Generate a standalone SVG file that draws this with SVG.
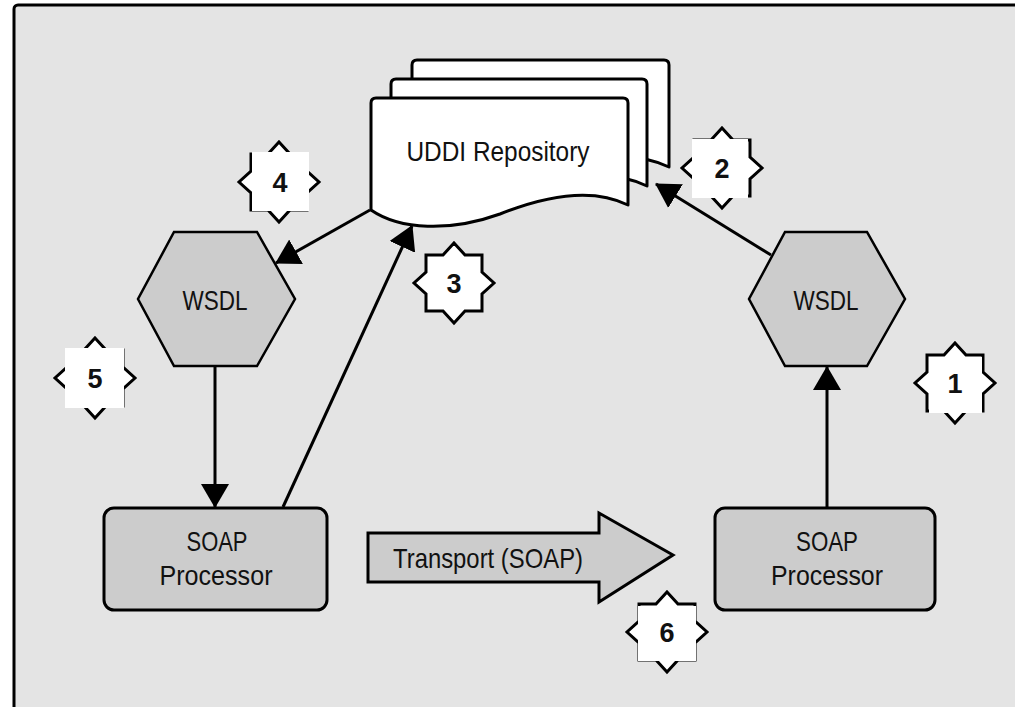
<svg xmlns="http://www.w3.org/2000/svg" width="1015" height="707" viewBox="0 0 1015 707">
<style>
.frame{fill:#e4e4e4;stroke:#000;stroke-width:3}
.page{fill:#fff;stroke:#000;stroke-width:3;stroke-linejoin:round}
.hex{fill:#cccccc;stroke:#000;stroke-width:2.5}
.box{fill:#cccccc;stroke:#000;stroke-width:3}
.conn{fill:none;stroke:#000;stroke-width:3}
.star{fill:#fff;stroke:#000;stroke-width:3;stroke-linejoin:miter}
.sq{fill:#fff}
.lbl{font-family:"Liberation Sans",Arial,sans-serif;font-size:28px;fill:#111;text-anchor:middle}
.num{font-family:"Liberation Sans",Arial,sans-serif;font-size:27px;font-weight:bold;fill:#111;text-anchor:middle}
</style>
<defs>
<marker id="ah" viewBox="0 0 24 28" refX="23" refY="14" markerWidth="24" markerHeight="28" orient="auto" markerUnits="userSpaceOnUse">
<path d="M0,0 L24,14 L0,28 Z" fill="#000"/>
</marker>
<polygon id="starShape" points="0,-40 11,-28 28,-28 28,-11 40,0 28,11 28,28 11,28 0,40 -11,28 -28,28 -28,11 -40,0 -28,-11 -28,-28 -11,-28"/>
</defs>
<rect x="0" y="0" width="1015" height="707" fill="#fff"/>
<rect class="frame" x="14" y="5" width="1020" height="720" rx="4"/>

<g id="uddi">
<path class="page" d="M412,167 L412,65 Q412,60 417,60 L664,60 Q669,60 669,65 L669,167 C631,148 581,160 541,176 C491,194 441,192 412,172 Z"/>
<path class="page" d="M391,191 L391,84 Q391,79 396,79 L642,79 Q647,79 647,84 L647,186 C609,167 560,179 520,195 C470,213 420,211 391,191 Z"/>
<path class="page" d="M371,210 L371,103 Q371,98 376,98 L623,98 Q628,98 628,103 L628,205 C590,186 540,198 500,214 C450,232 400,230 371,210 Z"/>
<text class="lbl" x="498" y="161" textLength="183" lengthAdjust="spacingAndGlyphs">UDDI Repository</text>
</g>

<g id="wsdl-left">
<polygon class="hex" points="174,232 257,232 295,299 257,366 174,366 138,299"/>
<text class="lbl" x="215" y="310" textLength="65" lengthAdjust="spacingAndGlyphs">WSDL</text>
</g>

<g id="wsdl-right">
<polygon class="hex" points="785,232 867,232 905,299 867,366 785,366 749,299"/>
<text class="lbl" x="826" y="310" textLength="65" lengthAdjust="spacingAndGlyphs">WSDL</text>
</g>

<g id="soap-left">
<rect class="box" x="104" y="508" width="223" height="102" rx="10"/>
<text class="lbl" x="217" y="551" textLength="61" lengthAdjust="spacingAndGlyphs">SOAP</text>
<text class="lbl" x="216" y="585" textLength="113" lengthAdjust="spacingAndGlyphs">Processor</text>
</g>

<g id="soap-right">
<rect class="box" x="715" y="508" width="220" height="102" rx="10"/>
<text class="lbl" x="827" y="551" textLength="62" lengthAdjust="spacingAndGlyphs">SOAP</text>
<text class="lbl" x="827" y="585" textLength="112" lengthAdjust="spacingAndGlyphs">Processor</text>
</g>

<g id="transport">
<polygon class="box" points="368,533 599,533 599,513 673,555 599,602 599,582 368,582"/>
<text class="lbl" x="488" y="568" textLength="190" lengthAdjust="spacingAndGlyphs">Transport (SOAP)</text>
</g>

<g id="connectors">
<line class="conn" x1="827" y1="508" x2="827" y2="367" marker-end="url(#ah)"/>
<line class="conn" x1="771" y1="255" x2="656" y2="184" marker-end="url(#ah)"/>
<line class="conn" x1="370" y1="210" x2="276" y2="263" marker-end="url(#ah)"/>
<line class="conn" x1="283" y1="507" x2="412" y2="226" marker-end="url(#ah)"/>
<line class="conn" x1="215" y1="366" x2="215" y2="507" marker-end="url(#ah)"/>
</g>

<g id="step-1">
<use href="#starShape" class="star" x="955" y="383"/>
<rect class="sq" x="929" y="357" width="53" height="56"/>
<text class="num" x="955" y="393">1</text>
</g>
<g id="step-2">
<use href="#starShape" class="star" x="722" y="168"/>
<rect class="sq" x="692" y="139" width="56" height="59"/>
<text class="num" x="722" y="178">2</text>
</g>
<g id="step-3">
<use href="#starShape" class="star" x="454" y="283"/>
<rect class="sq" x="428" y="257" width="52" height="52"/>
<text class="num" x="454" y="293">3</text>
</g>
<g id="step-4">
<use href="#starShape" class="star" x="279" y="182"/>
<rect class="sq" x="252" y="152" width="57" height="59"/>
<text class="num" x="280" y="192">4</text>
</g>
<g id="step-5">
<use href="#starShape" class="star" x="95" y="378"/>
<rect class="sq" x="65" y="348" width="59" height="60"/>
<text class="num" x="95" y="388">5</text>
</g>
<g id="step-6">
<use href="#starShape" class="star" x="667" y="632"/>
<rect class="sq" x="638" y="606" width="58" height="55"/>
<text class="num" x="667" y="642">6</text>
</g>
</svg>
